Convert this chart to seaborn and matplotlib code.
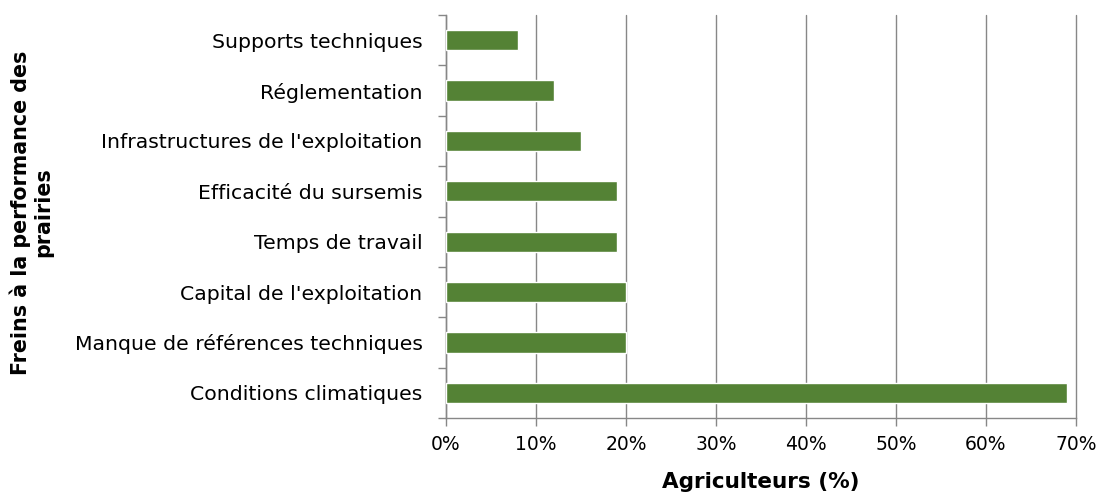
import matplotlib
matplotlib.use("Agg")
import matplotlib.pyplot as plt
import seaborn as sns
import pandas as pd
import numpy as np
from matplotlib.ticker import FixedLocator, PercentFormatter

categories = ["Supports techniques", "Réglementation", "Infrastructures de l'exploitation",
              "Efficacité du sursemis", "Temps de travail", "Capital de l'exploitation",
              "Manque de références techniques", "Conditions climatiques"]
values = [8, 12, 15, 19, 19, 20, 20, 69]
xticks = [0, 10, 20, 30, 40, 50, 60, 70]

df = pd.DataFrame({"cat": categories, "val": values})

sns.set_theme(style="white")
plt.rcParams['font.family'] = ['DejaVu Sans']

fig = plt.figure(figsize=(11.03, 4.93), dpi=100)
ax = fig.add_axes([446/1103, 1-418/493, (1076-446)/1103, (418-15)/493])

sns.barplot(data=df, x="val", y="cat", orient="h", color="#548235", width=0.4,
            saturation=1, ax=ax, zorder=3)

gray = "#878787"
ax.set_xlim(0, 70)
ax.set_ylim(len(categories)-0.5, -0.5)
ax.xaxis.set_major_locator(FixedLocator(xticks))
ax.xaxis.set_major_formatter(PercentFormatter(decimals=0))
ax.grid(axis="x", color=gray, linewidth=1, zorder=0)
for gl in ax.get_xgridlines():
    gl.set_clip_on(False)
ax.set_axisbelow(True)

for s in ["top", "right"]:
    ax.spines[s].set_visible(False)
for s in ["left", "bottom"]:
    ax.spines[s].set_color(gray)
    ax.spines[s].set_linewidth(1)

ax.tick_params(axis="x", which="major", direction="out", length=6, color=gray, width=1,
               labelsize=13.5, labelcolor="black", pad=6, bottom=True)
ax.tick_params(axis="y", which="major", length=0, labelsize=14.7, labelcolor="black", pad=17)
ax.yaxis.set_minor_locator(FixedLocator(np.arange(-0.5, len(categories), 1)))
ax.tick_params(axis="y", which="minor", direction="out", length=6, color=gray, width=1, left=True)

ax.set_xlabel("Agriculteurs (%)", fontsize=15.5, fontweight="bold", labelpad=13, color="black")
ax.set_ylabel("Freins à la performance des\nprairies", fontsize=14.9, fontweight="bold",
              linespacing=1.15, color="black")
ax.yaxis.set_label_coords((53-446)/630, 0.51)

fig.savefig("out.png", dpi=100)
